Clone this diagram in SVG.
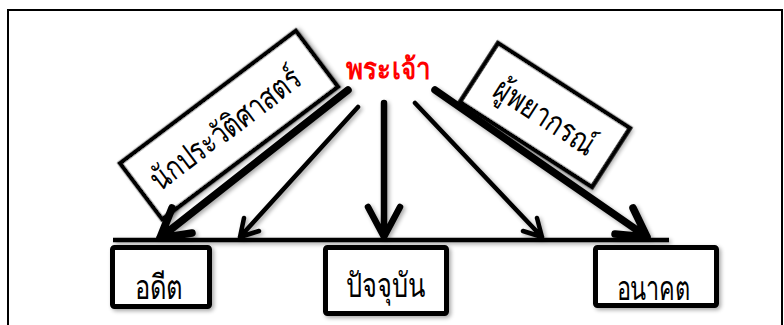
<svg xmlns="http://www.w3.org/2000/svg" width="784" height="325" viewBox="0 0 784 325">
<defs>
<filter id="sh" x="-20%" y="-20%" width="140%" height="140%">
<feGaussianBlur in="SourceAlpha" stdDeviation="2"/>
<feOffset dx="1.5" dy="2" result="b"/>
<feComponentTransfer><feFuncA type="linear" slope="0.35"/></feComponentTransfer>
<feMerge><feMergeNode/><feMergeNode in="SourceGraphic"/></feMerge>
</filter>
</defs>
<style>
.box{fill:#fff;stroke:#000;stroke-width:5;stroke-linejoin:round}
.rbox{fill:#fff;stroke:#000;stroke-width:4.5}
.lbl{font-family:"Noto Sans",sans-serif;font-size:34px;fill:#000;text-anchor:middle}
.rl{font-size:32px}
.god{font-family:"Noto Sans",sans-serif;font-size:29px;font-weight:bold;fill:#ff0000;text-anchor:middle}
.thick{fill:none;stroke:#000;stroke-width:7.5;stroke-linecap:round;stroke-linejoin:round}
.mid{fill:none;stroke:#000;stroke-width:6.5;stroke-linecap:round;stroke-linejoin:round}
.thin{fill:none;stroke:#000;stroke-width:4.5;stroke-linecap:round;stroke-linejoin:round}
</style>
<rect width="784" height="325" fill="#fff"/>
<path d="M8,325 V10 H782 V325" fill="none" stroke="#000" stroke-width="2"/>

<g id="historian">
<g transform="translate(229,125) rotate(-37)">
<rect class="rbox" x="-110" y="-35" width="220" height="70" filter="url(#sh)"/>
<text class="lbl rl" x="-5" y="12" textLength="180" lengthAdjust="spacingAndGlyphs">นักประวัติศาสตร์</text>
</g>
</g>

<g id="prophet">
<g transform="translate(545,115) rotate(32.8)">
<rect class="rbox" x="-78.5" y="-35" width="157" height="70" filter="url(#sh)"/>
<text class="lbl rl" x="1" y="12" textLength="114" lengthAdjust="spacingAndGlyphs">ผู้พยากรณ์</text>
</g>
</g>

<g id="god">
<text class="god" x="388" y="79" textLength="84" lengthAdjust="spacingAndGlyphs">พระเจ้า</text>
</g>

<g id="connectors" filter="url(#sh)">
<line x1="113" y1="240" x2="669" y2="240" stroke="#000" stroke-width="4.5"/>
<path class="thick" d="M348,90 L160,238 M192,233 L160,238 L172,208"/>
<path class="thin" d="M358,107 L240,237 M259,231 L240,237 L244,218"/>
<path class="mid" d="M384,103 L384,237 M368,207 L384,237 L400,207"/>
<path class="thin" d="M415,103 L542,237 M537,218 L542,237 L523,231"/>
<path class="thick" d="M435,90 L647,237 M633,208 L647,237 L615,234"/>
</g>

<g id="past">
<rect class="box" x="112.5" y="247.5" width="97" height="59" rx="2" filter="url(#sh)"/>
<text class="lbl" x="158.5" y="299" textLength="48" lengthAdjust="spacingAndGlyphs">อดีต</text>
</g>
<g id="present">
<rect class="box" x="325.5" y="247.5" width="121" height="66" rx="2" filter="url(#sh)"/>
<text class="lbl" x="385.5" y="297" textLength="80" lengthAdjust="spacingAndGlyphs">ปัจจุบัน</text>
</g>
<g id="future">
<rect class="box" x="595.5" y="247.5" width="121" height="58" rx="2" filter="url(#sh)"/>
<text class="lbl" x="653.5" y="300" textLength="74" lengthAdjust="spacingAndGlyphs">อนาคต</text>
</g>
</svg>
